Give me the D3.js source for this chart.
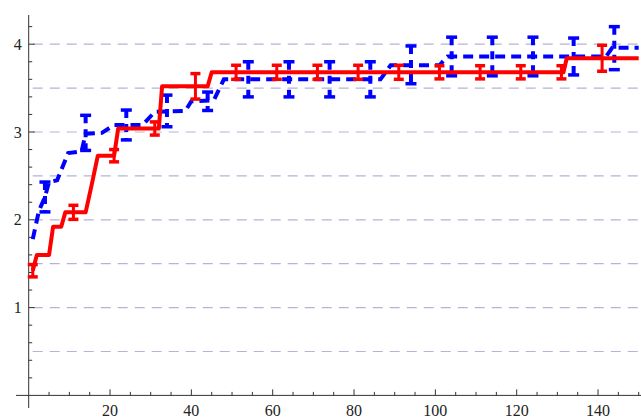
<!DOCTYPE html>
<html>
<head>
<meta charset="utf-8">
<script src="https://cdn.jsdelivr.net/npm/d3@7"></script>
<style>
  body { margin: 0; background: #fff; }
  svg { display: block; }
</style>
</head>
<body>
<div class="canvas"></div>
<script>
// red (solid) series: line vertices [x, y]
const redLine = [[1,1.42],[2,1.6],[5,1.6],[6,1.92],[8,1.92],[9,2.085],[14,2.085],[15.5,2.4],[17,2.73],
  [21,2.73],[22,3.04],[32,3.04],[32.8,3.52],[44,3.52],[45,3.68],[131.5,3.68],[132.3,3.84],[150,3.84]];
// blue (dashed) series: line vertices [x, y]
const blueLine = [[1,1.78],[2.5,2.1],[4,2.26],[5,2.43],[7,2.45],[9.7,2.76],[13,2.78],[14,2.98],[18,2.99],
  [21,3.08],[28,3.08],[31,3.23],[38.5,3.24],[40,3.35],[45.5,3.36],[48,3.6],[86.5,3.6],[89,3.76],
  [101,3.76],[103,3.86],[142,3.86],[143.5,3.96],[150,3.96]];

// error bars: x, centre, half-width
const redErrX = [1, 11, 21, 31, 41, 51, 61, 71, 81, 91, 101, 111, 121, 131, 141];
const redErrY = [1.42, 2.085, 2.73, 3.04, 3.52, 3.68, 3.68, 3.68, 3.68, 3.68, 3.68, 3.68, 3.68, 3.68, 3.84];
const redErrE = [0.07, 0.08, 0.07, 0.075, 0.145, 0.08, 0.08, 0.08, 0.08, 0.08, 0.075, 0.075, 0.075, 0.075, 0.148];

const blueErrX = [4, 14, 24, 34, 44, 54, 64, 74, 84, 94, 104, 114, 124, 134, 144];
const blueErrY = [2.26, 2.99, 3.08, 3.24, 3.35, 3.6, 3.6, 3.6, 3.6, 3.765, 3.86, 3.86, 3.86, 3.86, 3.955];
const blueErrE = [0.17, 0.2, 0.17, 0.18, 0.105, 0.2, 0.2, 0.2, 0.2, 0.215, 0.22, 0.22, 0.22, 0.21, 0.245];

const xTicks = [20, 40, 60, 80, 100, 120, 140];
const yTicks = [1, 2, 3, 4];
const gridY = [0.5, 1, 1.5, 2, 2.5, 3, 3.5, 4];

const dims = { width: 641, height: 418 };
const font = '"Liberation Serif", "Times New Roman", Times, serif';

const svg = d3.select('.canvas')
    .append('svg')
    .attr('width', dims.width)
    .attr('height', dims.height);

const x = d3.scaleLinear().domain([0, 150]).range([28.7, 638.7]);
const y = d3.scaleLinear().domain([0, 4]).range([395.4, 44.2]);

// dashed grid lines
svg.append('g')
  .selectAll('line')
  .data(gridY)
  .enter().append('line')
    .attr('x1', x(0) + 4).attr('x2', dims.width)
    .attr('y1', d => y(d)).attr('y2', d => y(d))
    .attr('stroke', '#b4b4d8')
    .attr('stroke-width', 1.2)
    .attr('stroke-dasharray', '10,7');

// axes
const axisCol = '#333';
svg.append('line')
  .attr('x1', 16).attr('x2', dims.width)
  .attr('y1', y(0)).attr('y2', y(0))
  .attr('stroke', axisCol).attr('stroke-width', 1);
svg.append('line')
  .attr('x1', x(0)).attr('x2', x(0))
  .attr('y1', 15).attr('y2', 408)
  .attr('stroke', axisCol).attr('stroke-width', 1);

// x ticks every 5, major every 20
const xMinor = d3.range(5, 151, 5);
svg.append('g').selectAll('line')
  .data(xMinor)
  .enter().append('line')
    .attr('x1', d => x(d)).attr('x2', d => x(d))
    .attr('y1', y(0))
    .attr('y2', d => y(0) - (d % 20 === 0 ? 6 : 3.5))
    .attr('stroke', axisCol).attr('stroke-width', 1);

// y ticks every 0.2, major at integers
const yMinor = d3.range(1, 22).map(i => i * 0.2);
svg.append('g').selectAll('line')
  .data(yMinor)
  .enter().append('line')
    .attr('x1', x(0))
    .attr('x2', d => x(0) + (Math.abs(d - Math.round(d)) < 1e-6 ? 6 : 3.5))
    .attr('y1', d => y(d)).attr('y2', d => y(d))
    .attr('stroke', axisCol).attr('stroke-width', 1);

svg.append('g').selectAll('text')
  .data(xTicks)
  .enter().append('text')
    .attr('font-family', font)
    .attr('font-size', 16)
    .attr('fill', '#222')
    .attr('x', d => x(d))
    .attr('y', y(0) + 21)
    .attr('text-anchor', 'middle')
    .text(d => d);

svg.append('g').selectAll('text')
  .data(yTicks)
  .enter().append('text')
    .attr('font-family', font)
    .attr('font-size', 16)
    .attr('fill', '#222')
    .attr('x', x(0) - 7)
    .attr('y', d => y(d) + 5.5)
    .attr('text-anchor', 'end')
    .text(d => d);

const line = d3.line().x(d => x(d[0])).y(d => y(d[1]));

// error bar drawer (dash only applies to the stem)
const drawErr = (xs, ys, es, col, capW, width, dash) => {
  const g = svg.append('g');
  const data = xs.map((d, i) => ({ x: d, y: ys[i], e: es[i] }));
  g.selectAll('.v').data(data).enter().append('line')
    .attr('x1', d => x(d.x)).attr('x2', d => x(d.x))
    .attr('y1', d => y(d.y + d.e)).attr('y2', d => y(d.y - d.e))
    .attr('stroke', col).attr('stroke-width', width)
    .attr('stroke-dasharray', dash);
  [-1, 1].forEach(s => {
    g.selectAll('.c' + s).data(data).enter().append('line')
      .attr('x1', d => x(d.x) - capW / 2).attr('x2', d => x(d.x) + capW / 2)
      .attr('y1', d => y(d.y + s * d.e)).attr('y2', d => y(d.y + s * d.e))
      .attr('stroke', col).attr('stroke-width', 3.5);
  });
};

// blue dashed series
svg.append('path')
  .datum(blueLine)
  .attr('d', line)
  .attr('fill', 'none')
  .attr('stroke', '#0000ff')
  .attr('stroke-width', 4)
  .attr('stroke-dasharray', '10,6');
drawErr(blueErrX, blueErrY, blueErrE, '#0000ff', 11, 4, '8,6');

// red solid series
svg.append('path')
  .datum(redLine)
  .attr('d', line)
  .attr('fill', 'none')
  .attr('stroke', '#ff0000')
  .attr('stroke-width', 4)
  .attr('stroke-linejoin', 'round');
drawErr(redErrX, redErrY, redErrE, '#ff0000', 10, 3, null);
</script>
</body>
</html>
